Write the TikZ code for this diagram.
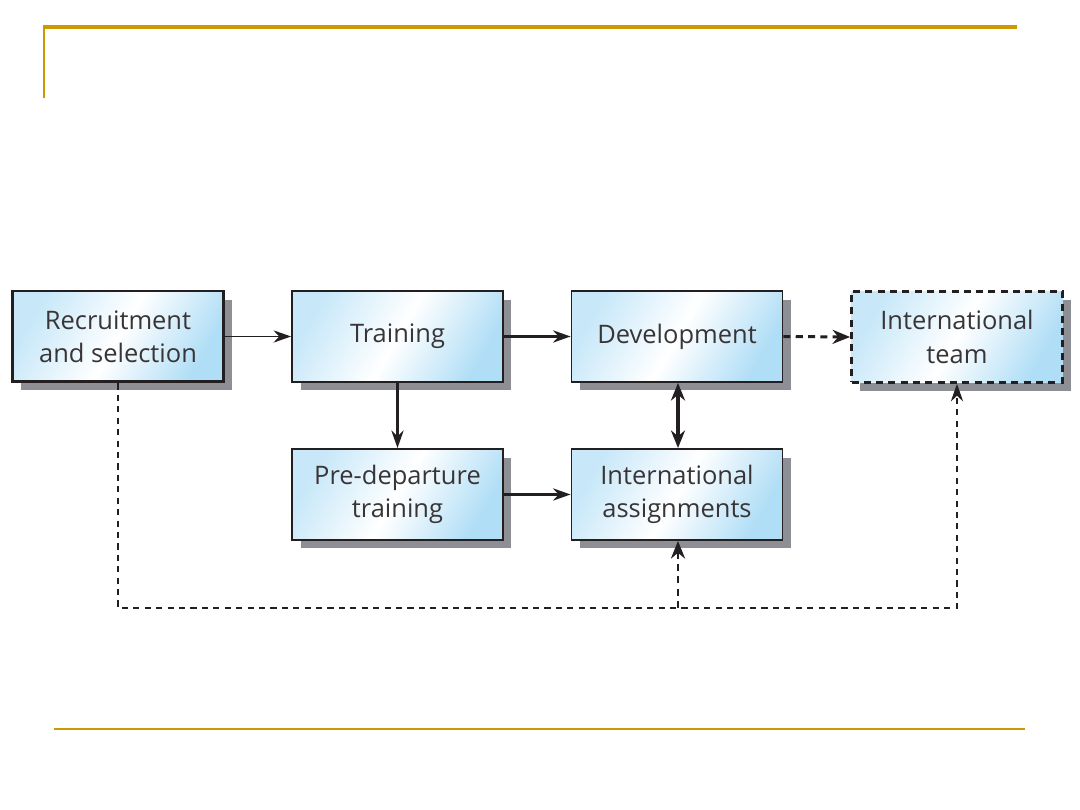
\documentclass[tikz,border=0pt]{standalone}
\usepackage{fontspec}
\setmainfont{Open Sans}
\usetikzlibrary{arrows.meta,shadows,positioning}
\definecolor{gold}{HTML}{CC9900}
\definecolor{boxblue}{HTML}{B0DEF6}
\definecolor{shadowgray}{HTML}{8E8F94}
\definecolor{txt}{HTML}{231F20}
\tikzset{
  box/.style={draw=txt, line width=1.1pt, minimum width=4.22cm, minimum height=1.82cm,
    align=center, font=\fontsize{14.5}{19}\selectfont, text=txt!90,
    left color=boxblue!70, right color=boxblue, middle color=white, shading angle=60,
    drop shadow={shadow xshift=0.17cm, shadow yshift=-0.17cm, fill=shadowgray, opacity=1}},
  thinarr/.style={draw=txt, line width=0.6pt, -{Stealth[length=10pt,width=7pt]}},
  thickarr/.style={draw=txt, line width=1.2pt, -{Stealth[length=10pt,width=7pt]}},
  heavyarr/.style={draw=txt, line width=1.7pt, -{Stealth[length=10pt,width=8pt]}},
  dblarr/.style={draw=txt, line width=1.8pt, arrows={Stealth[length=10pt,width=8pt]-Stealth[length=10pt,width=8pt]}},
  dash1/.style={dash pattern=on 3.5pt off 3pt},
  dash2/.style={dash pattern=on 4pt off 3pt},
}
\begin{document}
\begin{tikzpicture}[x=0.02cm,y=-0.02cm]
\useasboundingbox (0,0) rectangle (1080,810);
% gold frame lines
\draw[gold, line width=2pt] (43,27) -- (1017,27);
\draw[gold, line width=1.2pt] (44,27) -- (44,98);
\draw[gold, line width=1.6pt] (54,729) -- (1025,729);
% boxes
\node[box, line width=1.7pt] (rec) at (118,336.5) {Recruitment\\and selection};
\node[box] (tra) at (397.5,336.5) {Training};
\node[box] (dev) at (677,336.5) {Development};
\node[box, line width=1.6pt, dash2] (team) at (957,337) {International\\team};
\node[box] (pre) at (397.5,494.5) {Pre-departure\\training};
\node[box] (ia) at (677,494.5) {International\\assignments};
% connectors
\coordinate (j) at (678,608);
\draw[thinarr] (rec.east) -- (tra.west);
\draw[thickarr] (tra.east) -- (dev.west);
\draw[heavyarr, dash2] (dev.east) -- (team.west);
\draw[thickarr] (tra.south) -- (pre.north);
\draw[thickarr] (pre.east) -- (ia.west);
\draw[dblarr] (ia.north -| j) -- (dev.south -| j);
\draw[thinarr, dash1] (rec.south) |- (j) -| (team.south);
\draw[heavyarr, dash2] (j) -- (ia.south -| j);
\end{tikzpicture}
\end{document}
